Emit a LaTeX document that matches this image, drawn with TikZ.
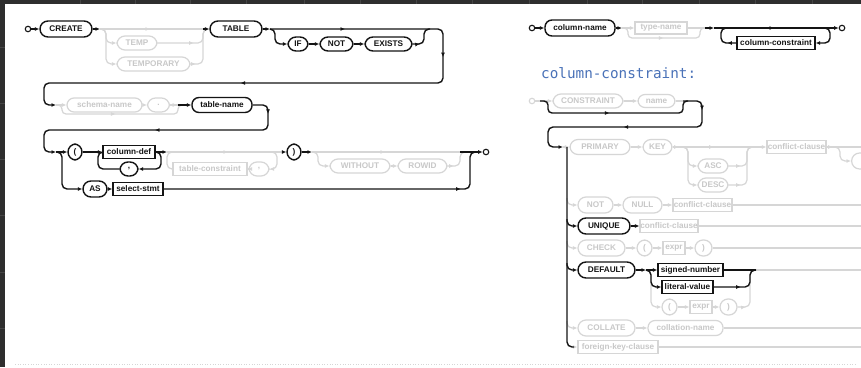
\documentclass[tikz,border=0pt]{standalone}
\usepackage{fontspec}
\setmainfont{Liberation Sans}
\newfontfamily\titlefont{DejaVu Sans Mono}
\usetikzlibrary{arrows.meta,decorations.markings}
\definecolor{bk}{HTML}{141414}
\definecolor{gl}{HTML}{D6D6D6}
\definecolor{gt}{HTML}{C8C8C8}
\definecolor{ttl}{HTML}{4A72B8}
\definecolor{frame}{HTML}{2E2E2E}
\definecolor{framesep}{HTML}{454545}
\tikzset{
 arr/.style={-{Latex[length=4.5pt,width=4pt]}},
 bl/.style={draw=bk,line width=1.4pt,rounded corners=5pt},
 gy/.style={draw=gl,line width=1.2pt,rounded corners=5pt},
 amark/.style={postaction={decorate,decoration={markings,mark=at position #1 with {\arrow{Latex[length=4.5pt,width=4pt]}}}}},
 lbl/.style={font=\fontsize{8.2}{9}\selectfont\bfseries,inner sep=0pt,fill=white},
 kwb/.style={lbl,draw=bk,text=bk,line width=1.4pt,rounded corners=8pt,minimum height=16pt},
 kwg/.style={lbl,draw=gl,text=gt,line width=1.2pt,rounded corners=8pt,minimum height=16pt},
 idb/.style={lbl,draw=bk,text=bk,line width=1.4pt,rounded corners=7pt,minimum height=15pt},
 idg/.style={lbl,draw=gl,text=gt,line width=1.2pt,rounded corners=7pt,minimum height=14pt},
 ntb/.style={lbl,draw=bk,text=bk,line width=1.4pt,minimum height=13pt},
 ntg/.style={lbl,draw=gl,text=gt,line width=1.2pt,minimum height=13pt},
 term/.style={circle,draw=bk,line width=1.1pt,minimum size=5.5pt,inner sep=0pt,fill=white},
 termg/.style={term,draw=gl},
 wd/.style={minimum width=#1}
}
\begin{document}
\begin{tikzpicture}[x=1pt,y=-1pt]
\useasboundingbox (0,0) rectangle (861,367);
\clip (0,0) rectangle (861,367);
\fill[frame] (0,0) rectangle (861,367);
\fill[white] (5,4) rectangle (861,367);
\foreach \xx in {80,135,190,246,304,360,416,472,529,587,642,699,755,812}
  \draw[framesep,line width=0.6pt] (\xx,0) -- (\xx,4);
\foreach \yy in {47,103,159,215,272,328}
  \draw[framesep,line width=0.6pt] (0,\yy) -- (5,\yy);
\draw[gl,dotted,line width=0.6pt] (15,364) -- (855,364);

% ---------------- CREATE TABLE ----------------
\node[term] (s1) at (28,29) {};
\node[kwb,wd=52pt] (create) at (66,29) {CREATE};
\node[kwg,wd=40pt,minimum height=14pt] (temp) at (137,43) {TEMP};
\node[kwg,wd=73pt,minimum height=14pt] (temporary) at (153.5,64) {TEMPORARY};
\node[kwb,wd=52pt] (table) at (236,29) {TABLE};
\node[kwb,wd=20pt,minimum height=14pt] (if) at (298,44) {IF};
\node[kwb,wd=33pt,minimum height=14pt] (not) at (336.5,44) {NOT};
\node[kwb,wd=47pt,minimum height=14pt] (exists) at (388.5,44) {EXISTS};

\coordinate (f1) at (100,29);
\coordinate (j1) at (203,29);
\coordinate (f1b) at (270,29);
\draw[bl,arr] (s1) -- (create);
\draw[bl,arr] (create) -- (f1);
\draw[gy,amark=50pt] (f1) -- (j1);
\draw[gy,arr] (f1) -- (106,29) -- (106,43) -- (temp.west);
\draw[gy,arr] (f1) -- (106,29) -- (106,64) -- (temporary.west);
\draw[gy,amark=36pt] (temp.east) -- (203,43) -- (203,29) -- (208,29);
\draw[gy,amark=5pt] (temporary.east) -- (203,64) -- (203,29) -- (208,29);
\draw[bl,arr] (j1) -- (table);
\draw[bl,arr] (table) -- (f1b);
\draw[bl,arr] (f1b) -- (275,29) -- (275,44) -- (if.west);
\draw[bl,arr] (if) -- (not);
\draw[bl,arr] (not) -- (exists);
\draw[bl,amark=7pt] (exists.east) -- (424,44) -- (424,29) -- (430,29);

% ---------------- row 2 ----------------
\node[idg,wd=75pt] (schema) at (104.5,105) {schema-name};
\node[kwg,wd=22pt,minimum height=14pt] (dot) at (158.5,105) {.};
\node[idb,wd=60pt] (tname) at (222,105) {table-name};
\coordinate (f2) at (56,105);
\coordinate (j2) at (178,105);
\draw[bl,arr,amark=75pt,amark=199pt,amark=425pt] (f1b) -- (443,29) -- (443,83) -- (44,83) -- (44,105) -- (f2);
\draw[gy,arr] (f2) -- (schema.west);
\draw[gy,rounded corners=4pt,amark=65pt] (f2) -- (62,105) -- (62,114) -- (178,114) -- (178,105) -- (183,105);
\draw[gy,arr] (schema) -- (dot);
\draw[gy,amark=7pt] (dot.east) -- (183,105);
\draw[bl,arr] (j2) -- (tname.west);

% ---------------- row 3 ----------------
\node[kwb,wd=14pt] (lp) at (75,152) {(};
\node[ntb,wd=52pt] (coldef) at (129,152) {column-def};
\node[kwb,wd=18pt,minimum height=14pt] (comma1) at (129,169) {,};
\node[ntg,wd=74pt] (tcons) at (210,169) {table-constraint};
\node[kwg,wd=20pt,minimum height=14pt] (comma2) at (259,169) {,};
\node[kwb,wd=14pt] (rp) at (294,152) {)};
\node[kwg,wd=60pt,minimum height=14pt] (without) at (360,166) {WITHOUT};
\node[kwg,wd=49pt,minimum height=14pt] (rowid) at (422.5,166) {ROWID};
\node[kwb,wd=24pt] (as) at (95,189) {AS};
\node[ntb,wd=50pt] (select) at (138,189) {select-stmt};
\node[term] (e1) at (486,152) {};
\coordinate (f3) at (56,152);
\coordinate (f4) at (167,152);
\coordinate (f5) at (312,152);
\coordinate (j5) at (460,152);
\draw[bl,arr,amark=22pt,amark=149pt] (tname.east) -- (268,105) -- (268,130) -- (44,130) -- (44,152) -- (f3);
\draw[bl,arr] (f3) -- (lp.west);
\draw[bl,arr] (f3) -- (62,152) -- (62,189) -- (as.west);
\draw[bl,arr] (lp) -- (coldef);
\draw[bl,arr] (coldef.east) -- (161,152) -- (161,169) -- (comma1.east);
\draw[bl] (comma1.west) -- (98,169) -- (98,152) -- (103,152);
\draw[bl,arr] (coldef.east) -- (f4);
\draw[gy,amark=61pt] (f4) -- (283,152);
\draw[gy,arr] (272,152) -- (277,152) -- (277,169) -- (comma2.east);
\draw[gy,arr] (comma2) -- (tcons);
\draw[gy] (tcons.west) -- (167,169) -- (167,152) -- (172,152);
\draw[bl,arr] (282,152) -- (rp.west);
\draw[bl,arr] (rp.east) -- (f5);
\draw[gy,amark=73pt] (f5) -- (j5);
\draw[gy,arr] (f5) -- (318,152) -- (318,166) -- (without.west);
\draw[gy,arr] (without) -- (rowid);
\draw[gy,amark=6pt] (rowid.east) -- (460,166) -- (460,152) -- (465,152);
\draw[bl,arr] (j5) -- (e1);
\draw[bl,arr] (as) -- (select);
\draw[bl,amark=297pt] (select.east) -- (470,189) -- (470,152) -- (476,152);

% ---------------- column-def ----------------
\node[term] (s2) at (532,28) {};
\node[idb,wd=70pt,minimum height=16pt] (colname) at (580,28) {column-name};
\node[ntg,wd=52pt,minimum height=12pt] (typename) at (661,28) {type-name};
\node[ntb,wd=78pt] (colcons) at (776,43) {column-constraint};
\node[term] (e2) at (842,28) {};
\coordinate (f6) at (622,28);
\coordinate (j6) at (705,28);
\coordinate (f7) at (714,28);
\draw[bl,arr] (s2) -- (colname);
\draw[bl,arr] (colname) -- (f6);
\draw[gy,arr] (f6) -- (typename.west);
\draw[gy,rounded corners=4pt,amark=48pt] (f6) -- (628,28) -- (628,38) -- (700,38) -- (700,28) -- (705,28);
\draw[gy] (typename.east) -- (j6);
\draw[bl,arr] (j6) -- (f7);
\draw[bl,arr,amark=60pt] (f7) -- (e2);
\draw[bl,arr] (823,28) -- (830,28) -- (830,43) -- (colcons.east);
\draw[bl,amark=9pt] (colcons.west) -- (721,43) -- (721,28) -- (726,28);

\node[anchor=west,inner sep=0pt,text=ttl,font=\titlefont\fontsize{14.3}{17}\selectfont] (title) at (541,73) {column-constraint:};

% ---------------- column-constraint ----------------
\node[termg] (s3) at (532,101) {};
\node[kwg,wd=70pt,minimum height=14pt] (constraint) at (588,101) {CONSTRAINT};
\node[idg,wd=37pt,minimum height=13pt] (name) at (656.5,101) {name};
\coordinate (j8) at (683,101);
\draw[gy,arr] (s3) -- (constraint);
\draw[gy,arr] (constraint) -- (name);
\draw[gy] (name.east) -- (j8);
\draw[bl,rounded corners=4pt,amark=78pt] (540,101) -- (548,101) -- (548,113) -- (683,113) -- (683,101) -- (688,101);
\draw[bl,arr,amark=26pt,amark=119pt] (j8) -- (702,101) -- (702,127) -- (548,127) -- (548,147) -- (563,147);

% PRIMARY KEY row
\node[kwg,wd=60pt,minimum height=15pt] (primary) at (600,147) {PRIMARY};
\node[kwg,wd=29pt,minimum height=15pt] (key) at (657.5,147) {KEY};
\node[kwg,wd=30pt,minimum height=14pt] (asc) at (713,166) {ASC};
\node[kwg,wd=30pt,minimum height=14pt] (desc) at (713,185) {DESC};
\node[ntg,wd=59pt] (conf1) at (796.5,147) {conflict-clause};
\node[kwg,wd=40pt,anchor=west,minimum height=16pt] (autoinc) at (851,161) {};
\draw[gy,arr] (563,147) -- (primary.west);
\draw[gy,arr] (primary) -- (key);
\draw[gy,arr,amark=6pt,amark=41pt] (key) -- (conf1);
\draw[gy,arr] (682,147) -- (688,147) -- (688,166) -- (asc.west);
\draw[gy,arr] (682,147) -- (688,147) -- (688,185) -- (desc.west);
\draw[gy,amark=12pt] (asc.east) -- (747,166) -- (747,147) -- (752,147);
\draw[gy,amark=12pt] (desc.east) -- (747,185) -- (747,147) -- (752,147);
\draw[gy,amark=6pt] (conf1.east) -- (861,147);
\draw[gy,arr] (834,147) -- (840,147) -- (840,161) -- (autoinc.west);

% NOT NULL row
\node[kwg,wd=35pt] (notk) at (595.5,205) {NOT};
\node[kwg,wd=39pt] (null) at (642.5,205) {NULL};
\node[ntg,wd=59pt] (conf2) at (702.5,205) {conflict-clause};
\draw[gy,arr] (567,198) -- (567,205) -- (notk.west);
\draw[gy,arr] (notk) -- (null);
\draw[gy,arr] (null) -- (conf2);
\draw[gy] (conf2.east) -- (861,205);

% UNIQUE row
\node[kwb,wd=52pt] (unique) at (604,226) {UNIQUE};
\node[ntg,wd=58pt] (conf3) at (669,226) {conflict-clause};
\draw[gy] (conf3.east) -- (861,226);

% CHECK row
\node[kwg,wd=47pt] (check) at (601.5,248) {CHECK};
\node[kwg,wd=15pt] (lp2) at (644.5,248) {(};
\node[ntg,wd=22pt] (expr1) at (674,248) {expr};
\node[kwg,wd=17pt] (rp2) at (703.5,248) {)};
\draw[gy,arr] (567,241) -- (567,248) -- (check.west);
\draw[gy,arr] (check) -- (lp2);
\draw[gy,arr] (lp2) -- (expr1);
\draw[gy,arr] (expr1) -- (rp2);
\draw[gy] (rp2.east) -- (861,248);

% DEFAULT row
\node[kwb,wd=57pt] (default) at (606.5,270) {DEFAULT};
\node[ntb,wd=65pt] (signed) at (690.5,270) {signed-number};
\node[ntb,wd=51pt] (literal) at (687.5,287) {literal-value};
\node[kwg,wd=15pt] (lp3) at (669.5,307) {(};
\node[ntg,wd=22pt] (expr2) at (701,307) {expr};
\node[kwg,wd=17pt] (rp3) at (728.5,307) {)};
\coordinate (f9) at (646,270);
\draw[gy,arr] (f9) -- (651,270) -- (651,307) -- (lp3.west);
\draw[gy,arr] (lp3) -- (expr2);
\draw[gy,arr] (expr2) -- (rp3);
\draw[gy,amark=8pt] (rp3.east) -- (750,307) -- (750,270) -- (755,270);
\draw[gy] (755,270) -- (861,270);
\draw[bl,arr] (default) -- (f9);
\draw[bl,arr] (f9) -- (signed.west);
\draw[bl,arr] (f9) -- (651,270) -- (651,287) -- (literal.west);
\draw[bl] (signed.east) -- (756,270);
\draw[bl,amark=27pt] (literal.east) -- (750,287) -- (750,270) -- (756,270);

% COLLATE row
\node[kwg,wd=57pt] (collate) at (606.5,328) {COLLATE};
\node[idg,wd=75pt,minimum height=15pt] (collname) at (685.5,328) {collation-name};
\draw[gy,arr] (567,321) -- (567,328) -- (collate.west);
\draw[gy,arr] (collate) -- (collname);
\draw[gy] (collname.east) -- (861,328);

% FOREIGN KEY row
\node[ntg,wd=80pt] (fk) at (618,347) {foreign-key-clause};
\draw[gy,arr] (574,347) -- (fk.west);
\draw[gy] (fk.east) -- (861,347);

% bold spine and bold branches
\draw[bl] (567,147) -- (567,347) -- (574,347);
\draw[bl,arr] (567,219) -- (567,226) -- (unique.west);
\draw[bl,arr] (unique) -- (conf3);
\draw[bl,arr] (567,263) -- (567,270) -- (default.west);
\end{tikzpicture}
\end{document}
